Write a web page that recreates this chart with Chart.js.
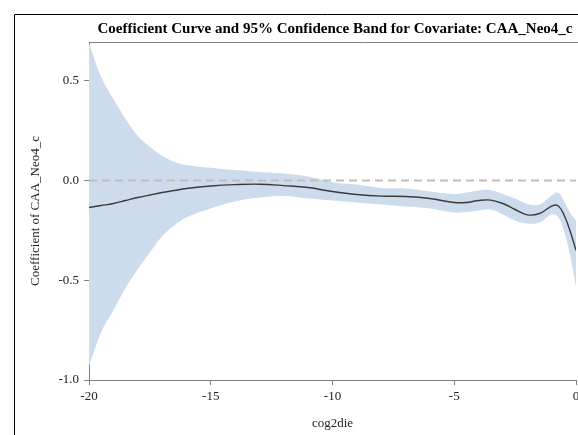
<!DOCTYPE html>
<html>
<head>
<meta charset="utf-8">
<script src="https://cdn.jsdelivr.net/npm/chart.js@4.4.1/dist/chart.umd.min.js"></script>
<style>
  html, body { margin: 0; padding: 0; background: #fff; overflow: hidden; }
  #wrap { position: absolute; left: 0; top: 0; width: 640px; height: 435px; }
</style>
</head>
<body>
<div id="wrap"><canvas id="chart" width="640" height="435"></canvas></div>
<script>
// values
const xValues = [-20, -19.5, -19, -18.5, -18, -17.5, -17, -16.5, -16, -15, -14, -13, -12, -11, -10,
  -9, -8, -7, -6, -5, -4.5, -4, -3.5, -3, -2.5, -2, -1.5, -1, -0.75, -0.5, -0.25, 0];
const coefCurve = [-0.135, -0.125, -0.115, -0.1, -0.085, -0.072, -0.06, -0.05, -0.04, -0.027, -0.02, -0.018, -0.025, -0.035, -0.055,
  -0.07, -0.078, -0.08, -0.09, -0.11, -0.11, -0.1, -0.098, -0.115, -0.145, -0.172, -0.165, -0.128, -0.125, -0.17, -0.25, -0.35];
const upperBand = [0.69, 0.52, 0.41, 0.31, 0.225, 0.17, 0.125, 0.095, 0.078, 0.064, 0.053, 0.043, 0.035, 0.02, -0.008,
  -0.02, -0.037, -0.04, -0.055, -0.067, -0.06, -0.05, -0.048, -0.067, -0.09, -0.117, -0.12, -0.075, -0.06, -0.1, -0.16, -0.2];
const lowerBand = [-0.93, -0.76, -0.65, -0.54, -0.445, -0.36, -0.28, -0.225, -0.185, -0.14, -0.105, -0.085, -0.077, -0.09, -0.1,
  -0.11, -0.12, -0.13, -0.14, -0.16, -0.158, -0.15, -0.145, -0.17, -0.2, -0.215, -0.21, -0.17, -0.18, -0.25, -0.37, -0.53];
const zeroLine = [0, 0];
const zeroLineX = [-20, 0];
const xTicks = [-20, -15, -10, -5, 0];
const yTicks = [-1.0, -0.5, 0.0, 0.5];

const titleText = "Coefficient Curve and 95% Confidence Band for Covariate: CAA_Neo4_c";
const serif = "'Liberation Serif', 'Times New Roman', serif";

const toPoints = (xs, ys) => xs.map((x, i) => ({x, y: ys[i]}));

const frame = {
    id: "frame",
    beforeDraw(chart) {
        const ctx = chart.ctx;
        ctx.save();
        ctx.fillStyle = "#fff";
        ctx.fillRect(0, 0, chart.width, chart.height);
        // outer figure border
        ctx.strokeStyle = "#000";
        ctx.lineWidth = 1;
        ctx.beginPath();
        ctx.moveTo(14.5, chart.height);
        ctx.lineTo(14.5, 14.5);
        ctx.lineTo(chart.width, 14.5);
        ctx.stroke();
        // title
        ctx.fillStyle = "#000";
        ctx.font = "bold 15px " + serif;
        ctx.textAlign = "center";
        ctx.textBaseline = "middle";
        ctx.fillText(titleText, 335, 29);
        ctx.restore();
    },
    afterDraw(chart) {
        const ctx = chart.ctx;
        const a = chart.chartArea;
        ctx.save();
        ctx.strokeStyle = "#7f7f7f";
        ctx.lineWidth = 1;
        ctx.beginPath();
        ctx.moveTo(a.left, a.top + 0.5);
        ctx.lineTo(chart.width, a.top + 0.5);
        ctx.stroke();
        ctx.restore();
    }
};

new Chart(document.getElementById("chart"), {
    type: "line",
    data: {
        datasets: [
            {
                data: toPoints(xValues, lowerBand),
                order: 4,
                borderWidth: 0,
                pointRadius: 0,
                tension: 0.4,
                fill: false,
            },
            {
                data: toPoints(xValues, upperBand),
                order: 3,
                borderWidth: 0,
                pointRadius: 0,
                tension: 0.4,
                backgroundColor: "rgb(204, 220, 237)",
                fill: "-1",
            },
            {
                data: toPoints(zeroLineX, zeroLine),
                order: 2,
                borderColor: "#bdbdbd",
                borderWidth: 2,
                borderDash: [8, 5],
                pointRadius: 0,
                fill: false,
            },
            {
                data: toPoints(xValues, coefCurve),
                order: 1,
                borderColor: "#3a3a3a",
                borderWidth: 1.4,
                pointRadius: 0,
                tension: 0.4,
                fill: false,
            },
        ],
    },
    options: {
        responsive: false,
        animation: false,
        events: [],
        layout: {padding: {left: 0, top: 42, right: 64, bottom: 0}},
        plugins: {
            legend: {display: false},
            title: {display: false},
            tooltip: {enabled: false},
        },
        scales: {
            x: {
                type: "linear",
                min: -20,
                max: 0,
                afterBuildTicks: s => { s.ticks = xTicks.map(v => ({value: v})); },
                afterFit: s => { s.height = 55; },
                grid: {drawOnChartArea: false, drawTicks: true, tickLength: 5, color: "#7f7f7f"},
                border: {display: true, color: "#7f7f7f", width: 1},
                ticks: {color: "#222", font: {family: serif, size: 13}, padding: 4},
                title: {display: true, text: "cog2die", color: "#222", font: {family: serif, size: 13}, padding: {top: 6}},
            },
            y: {
                type: "linear",
                min: -1.0,
                max: 0.695,
                afterBuildTicks: s => { s.ticks = yTicks.map(v => ({value: v})); },
                afterFit: s => { s.width = 89; },
                grid: {drawOnChartArea: false, drawTicks: true, tickLength: 5, color: "#7f7f7f"},
                border: {display: true, color: "#7f7f7f", width: 1},
                ticks: {color: "#222", font: {family: serif, size: 13}, padding: 5,
                    callback: v => v.toFixed(1)},
                title: {display: true, text: "Coefficient of CAA_Neo4_c", color: "#222", font: {family: serif, size: 13}, padding: {top: 28, bottom: 0}},
            },
        },
    },
    plugins: [frame],
});
</script>
</body>
</html>
